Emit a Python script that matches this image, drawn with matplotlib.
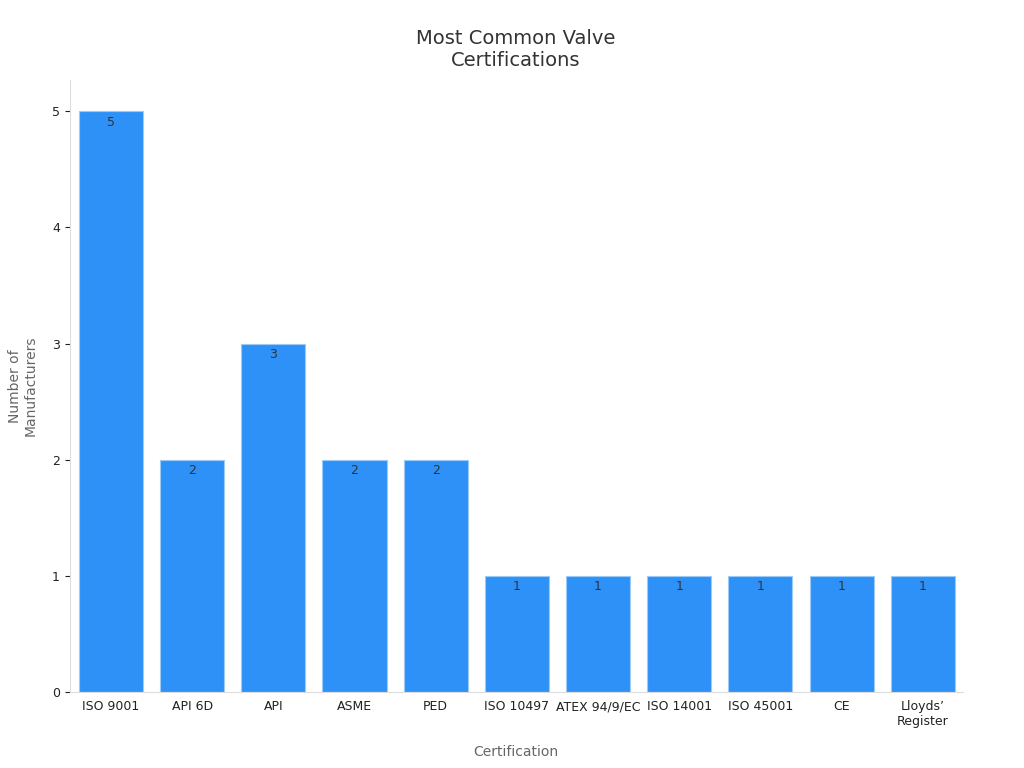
import matplotlib
matplotlib.use("Agg")
import matplotlib.pyplot as plt

# Données
certifications = ['ISO 9001', 'API 6D', 'API', 'ASME', 'PED', 'ISO 10497',
                  'ATEX 94/9/EC', 'ISO 14001', 'ISO 45001', 'CE', 'Lloyds’\nRegister']
manufacturers = [5, 2, 3, 2, 2, 1, 1, 1, 1, 1, 1]

fig = plt.figure(figsize=(10.24, 7.68), dpi=100)
ax = fig.add_axes([0.068, 0.099, 0.872, 0.797])

bars = ax.bar(range(len(certifications)), manufacturers, width=0.79,
              color='#2e91f8', edgecolor='#9ccaf7', linewidth=0.8)

# Valeurs à l'intérieur du haut des barres
for i, v in enumerate(manufacturers):
    ax.text(i, v - 0.04, str(v), ha='center', va='top', fontsize=9, color='#333333')

ax.set_xticks(range(len(certifications)))
ax.set_xticklabels(certifications, fontsize=9, color='#222222')
ax.set_yticks(range(6))
ax.tick_params(axis='y', labelsize=9, colors='#222222')
ax.tick_params(axis='x', length=0, pad=6)
ax.set_xlim(-0.51, 10.49)
ax.set_ylim(0, 5.27)

ax.set_xlabel('Certification', fontsize=10, color='#666666', labelpad=12)
ax.set_ylabel('Number of\nManufacturers', fontsize=10, color='#666666', labelpad=10)
ax.set_title('Most Common Valve\nCertifications', fontsize=14, color='#333333', pad=10)

for side in ['top', 'right']:
    ax.spines[side].set_visible(False)
for side in ['left', 'bottom']:
    ax.spines[side].set_color('#dddddd')

fig.savefig('out.png', dpi=100)
